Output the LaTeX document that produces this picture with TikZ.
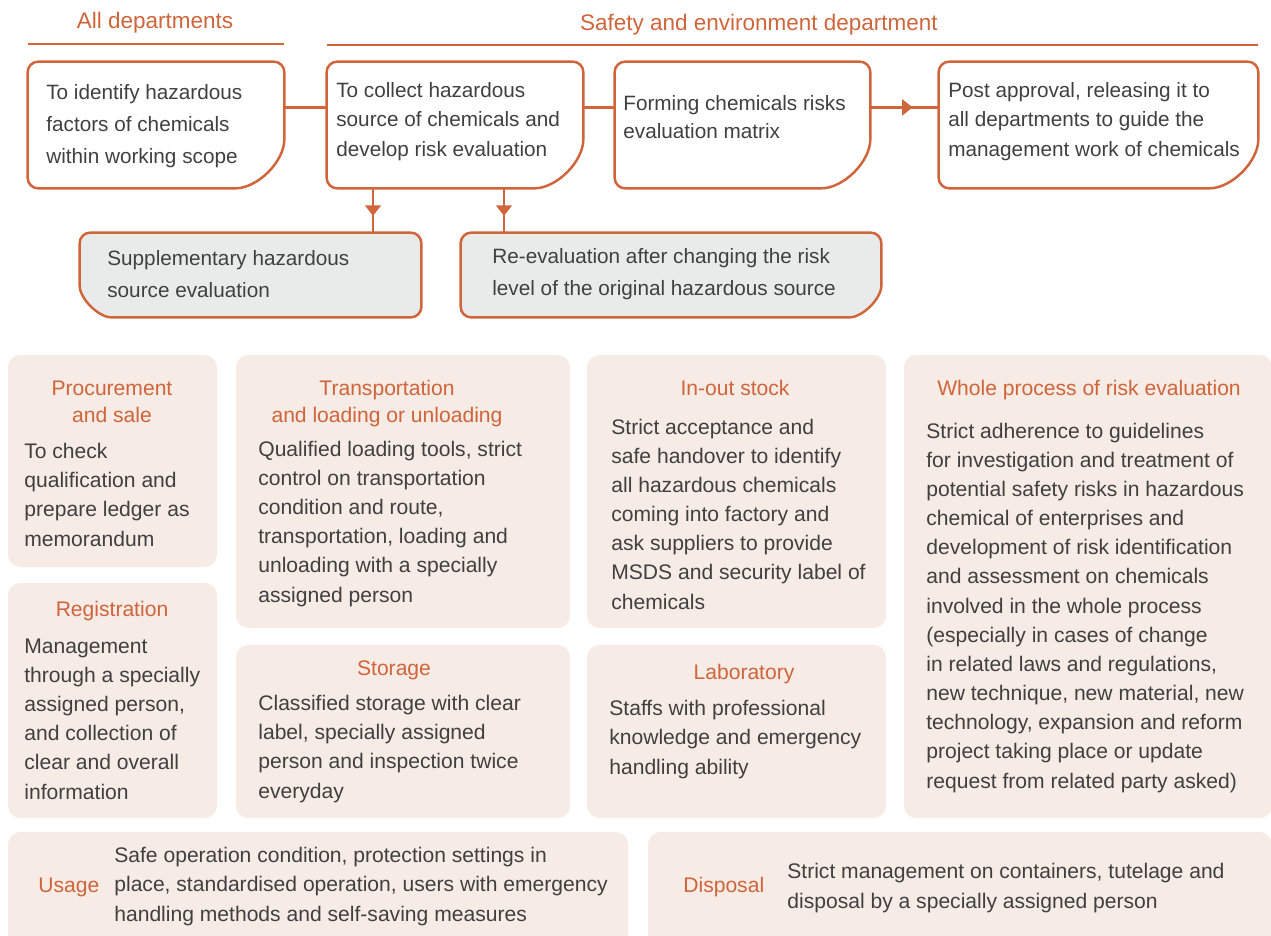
\documentclass[tikz,border=0pt]{standalone}
\usepackage{fontspec}
\setmainfont{Liberation Sans}
\usetikzlibrary{arrows.meta, decorations.markings, fit}

\definecolor{rust}{RGB}{208,100,58}
\definecolor{ink}{RGB}{64,64,64}
\definecolor{blush}{RGB}{247,235,230}
\definecolor{mist}{RGB}{233,235,234}

\newcommand{\seframe}[3]{\draw[frame, fill=#2] (#1.north) -- (#1.north east) -- ([yshift=#3]#1.south east) arc[start angle=0, end angle=-90, radius=#3] -- (#1.south west) -- (#1.north west) -- cycle;}
\newcommand{\swframe}[3]{\draw[frame, fill=#2] (#1.north) -- (#1.north east) -- (#1.south east) -- ([xshift=#3]#1.south west) arc[start angle=270, end angle=180, radius=#3] -- (#1.north west) -- cycle;}

\begin{document}
\begin{tikzpicture}[x=0.02cm, y=-0.02cm]

\tikzstyle{frame}=[draw=rust, line width=1.4pt, rounded corners=6pt]
\tikzstyle{area}=[inner sep=0pt]
\tikzstyle{panel}=[inner sep=0pt, fill=blush, rounded corners=7pt]
\tikzstyle{txt}=[anchor=base west, align=left, inner sep=0pt, text=ink]
\tikzstyle{head}=[anchor=base, align=center, inner sep=0pt, text=rust, font=\fontsize{12}{15.3}\selectfont]
\tikzstyle{link}=[draw=rust, line width=1.4pt]
\tikzstyle{flow}=[link, postaction={decorate}, decoration={markings, mark=at position 0.62 with {\arrow{Triangle[width=9pt, length=6pt]}}}]
\tikzstyle{rule}=[draw=rust, line width=1.3pt]

\clip (0,0) rectangle (1271,936);

\node [head, font=\fontsize{12.8}{15}\selectfont] (alldep) at (155, 29) {All departments};
\node [head, font=\fontsize{12.8}{15}\selectfont] (safedep) at (759, 31) {Safety and environment department};
\path [rule] (28, 44) -- (284, 44);
\path [rule] (327, 45) -- (1258, 45);

\node [area, fit={(28,62) (284,188)}] (identify) {};
\node [area, fit={(327,62) (583,188)}] (collect) {};
\node [area, fit={(615,62) (870,188)}] (matrix) {};
\node [area, fit={(939,62) (1258,188)}] (release) {};
\node [area, fit={(80,233) (421,317)}] (supp) {};
\node [area, fit={(461,233) (881,317)}] (reeval) {};

\path [link] ([yshift=10pt]identify.east) -- ([yshift=10pt]collect.west);
\path [link] ([yshift=10pt]collect.east) -- ([yshift=10pt]matrix.west);
\path [flow] ([yshift=10pt]matrix.east) -- ([yshift=10pt]release.west);
\path [flow] ([xshift=-1.64cm]collect.south) -- ([xshift=-1.64cm]collect.south |- supp.north);
\path [flow] ([xshift=0.98cm]collect.south) -- ([xshift=0.98cm]collect.south |- reeval.north);

\seframe{identify}{white}{34pt}
\seframe{collect}{white}{34pt}
\seframe{matrix}{white}{34pt}
\seframe{release}{white}{34pt}
\swframe{supp}{mist}{24pt}
\seframe{reeval}{mist}{24pt}

\node [txt, font=\fontsize{11.8}{18.1}\selectfont] (identifytxt) at (46, 163) {To identify hazardous\\factors of chemicals\\within working scope};
\node [txt, font=\fontsize{11.8}{16.7}\selectfont] (collecttxt) at (336, 156) {To collect hazardous\\source of chemicals and\\develop risk evaluation};
\node [txt, font=\fontsize{11.8}{15.9}\selectfont] (matrixtxt) at (623, 138) {Forming chemicals risks\\evaluation matrix};
\node [txt, font=\fontsize{11.8}{16.7}\selectfont] (releasetxt) at (948, 156) {Post approval, releasing it to\\all departments to guide the\\management work of chemicals};
\node [txt, font=\fontsize{11.8}{18.1}\selectfont] (supptxt) at (107, 297) {Supplementary hazardous\\source evaluation};
\node [txt, font=\fontsize{11.8}{18.1}\selectfont] (reevaltxt) at (492, 295) {Re-evaluation after changing the risk\\level of the original hazardous source};

\node [panel, fit={(8,355) (217,567)}] (procure) {};
\node [panel, fit={(8,583) (217,818)}] (register) {};
\node [panel, fit={(236,355) (570,628)}] (transport) {};
\node [panel, fit={(236,645) (570,818)}] (storage) {};
\node [panel, fit={(587,355) (886,628)}] (stock) {};
\node [panel, fit={(587,645) (886,818)}] (lab) {};
\node [panel, fit={(904,355) (1272,818)}] (whole) {};
\node [panel, fit={(8,832) (628,960)}] (usage) {};
\node [panel, fit={(648,832) (1272,960)}] (disposal) {};

\tikzstyle{body}=[txt, font=\fontsize{12}{16.6}\selectfont]

\node [head] (procurehd) at (112, 422) {Procurement\\and sale};
\node [body] (procuretxt) at (24, 546) {To check\\qualification and\\prepare ledger as\\memorandum};
\node [head] (registerhd) at (112, 616) {Registration};
\node [body] (registertxt) at (24, 799) {Management\\through a specially\\assigned person,\\and collection of\\clear and overall\\information};
\node [head] (transporthd) at (387, 422) {Transportation\\and loading or unloading};
\node [body] (transporttxt) at (258, 602) {Qualified loading tools, strict\\control on transportation\\condition and route,\\transportation, loading and\\unloading with a specially\\assigned person};
\node [head] (storagehd) at (394, 675) {Storage};
\node [body] (storagetxt) at (258, 798) {Classified storage with clear\\label, specially assigned\\person and inspection twice\\everyday};
\node [head] (stockhd) at (735, 395) {In-out stock};
\node [body] (stocktxt) at (611, 609) {Strict acceptance and\\safe handover to identify\\all hazardous chemicals\\coming into factory and\\ask suppliers to provide\\MSDS and security label of\\chemicals};
\node [head] (labhd) at (744, 679) {Laboratory};
\node [body] (labtxt) at (609, 774) {Staffs with professional\\knowledge and emergency\\handling ability};
\node [head] (wholehd) at (1089, 395) {Whole process of risk evaluation};
\node [body] (wholetxt) at (926, 788) {Strict adherence to guidelines\\for investigation and treatment of\\potential safety risks in hazardous\\chemical of enterprises and\\development of risk identification\\and assessment on chemicals\\involved in the whole process\\(especially in cases of change\\in related laws and regulations,\\new technique, new material, new\\technology, expansion and reform\\project taking place or update\\request from related party asked)};
\node [head, anchor=base west] (usagehd) at (38, 892) {Usage};
\node [body] (usagetxt) at (114, 921) {Safe operation condition, protection settings in\\place, standardised operation, users with emergency\\handling methods and self-saving measures};
\node [head, anchor=base west] (disposalhd) at (683, 892) {Disposal};
\node [body] (disposaltxt) at (787, 908) {Strict management on containers, tutelage and\\disposal by a specially assigned person};

\end{tikzpicture}
\end{document}
